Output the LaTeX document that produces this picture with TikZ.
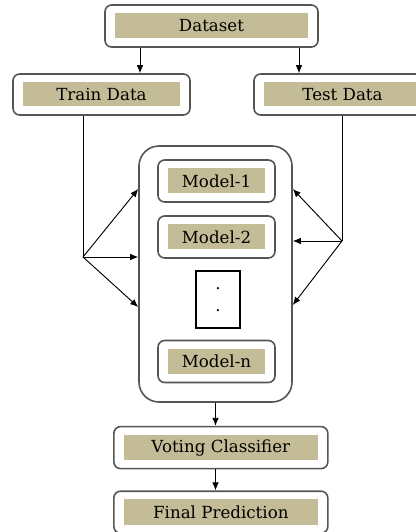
\documentclass[tikz,border=0pt]{standalone}
\usepackage{fontspec}
\setmainfont{DejaVu Serif}
\usetikzlibrary{arrows.meta, positioning}
\usepackage{xcolor}
\definecolor{tan}{HTML}{C4BC96}
\definecolor{rim}{HTML}{555555}

\tikzset{
    stage/.style={draw=rim, line width=1.2pt, rounded corners=5pt, fill=white,
        minimum height=31.5pt, inner sep=0pt, font=\fontsize{12.5}{15}\selectfont,
        path picture={\fill[tan, sharp corners]
            ([xshift=7.5pt, yshift=6.5pt]path picture bounding box.south west) rectangle
            ([xshift=-7.5pt, yshift=-6pt]path picture bounding box.north east);}},
    pool/.style={draw=rim, line width=1.2pt, rounded corners=15pt, fill=white},
    gapbox/.style={draw, line width=0.8pt, minimum width=33pt, minimum height=42.75pt,
        align=center, font=\fontsize{12.5}{15}\selectfont},
    flow/.style={-{Latex[length=6pt, width=5pt]}, line width=0.7pt}
}

\begin{document}
\begin{tikzpicture}[x=0.75pt, y=-0.75pt]
    \useasboundingbox (0,0) rectangle (415,532);

    \node[stage, minimum width=159.75pt] (data) at (211.5,26) {Dataset};
    \node[stage, minimum width=132.75pt, minimum height=30.75pt] (train) at (101.5,94.5) {Train Data};
    \node[stage, minimum width=132.75pt, minimum height=30.75pt] (test) at (342.5,94.5) {Test Data};

    \node[pool, minimum width=114.75pt, minimum height=192pt] (models) at (215.5,274) {};
    \node[stage, minimum width=87.75pt] (m1) at (216.5,181) {Model-1};
    \node[stage, minimum width=87.75pt] (m2) at (216.5,237) {Model-2};
    \node[gapbox] (gap) at (218,299.5) {.\\[1.5pt].};
    \node[stage, minimum width=87.75pt] (mn) at (216.5,361.5) {Model-n};

    \node[stage, minimum width=160.5pt] (vote) [below=17.25pt of models, xshift=4pt] {Voting Classifier};
    \node[stage, minimum width=160.5pt] (final) [below=15.75pt of vote] {Final Prediction};

    \coordinate (fanL) at (83,257);
    \coordinate (fanR) at (342,241);

    % data split
    \draw[flow] (data.south -| 140,0) -- (train.north -| 140,0);
    \draw[flow] (data.south -| 299,0) -- (test.north -| 299,0);

    % train and test into the models
    \draw[line width=0.7pt] (train.south -| fanL) -- (fanL);
    \foreach \y in {189,257,307}
        \draw[flow] (fanL) -- (models.west |- 0,\y);
    \draw[line width=0.7pt] (test.south -| fanR) -- (fanR);
    \foreach \y in {189,241,305}
        \draw[flow] (fanR) -- (models.east |- 0,\y);

    % voting
    \draw[flow] (models.south) -- (models.south |- vote.north);
    \draw[flow] (vote.south -| models.south) -- (final.north -| models.south);
\end{tikzpicture}
\end{document}
